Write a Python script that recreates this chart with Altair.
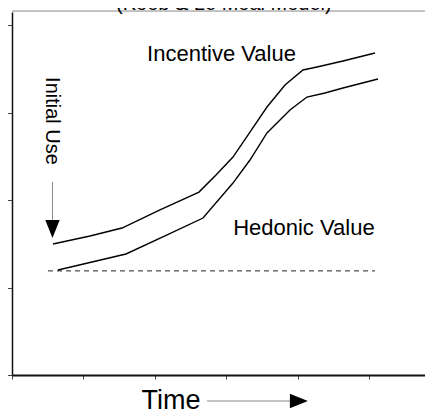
import altair as alt
import pandas as pd

# ---- data ----
incentive_x = [1.148, 2.183, 3.079, 4.142, 5.234, 5.710, 6.185, 6.661, 7.137, 7.641, 8.144, 8.536, 9.264, 10.160]
incentive_y = [1.497, 1.589, 1.680, 1.886, 2.091, 2.286, 2.491, 2.777, 3.063, 3.314, 3.486, 3.520, 3.589, 3.680]

hedonic_x = [1.287, 2.239, 3.191, 4.282, 5.346, 6.185, 6.661, 7.137, 7.781, 8.256, 8.760, 9.264, 10.244]
hedonic_y = [1.200, 1.291, 1.383, 1.589, 1.794, 2.194, 2.457, 2.766, 3.029, 3.177, 3.223, 3.280, 3.383]

baseline_x = [1.008, 10.160]
baseline_y = [1.19, 1.19]

x_ticks = list(range(0, 12))
y_ticks = [0, 1, 2, 3, 4]
x_domain = [0, 11.56]
y_domain = [0, 4.149]

label_text = ["Incentive  Value", "Hedonic  Value"]
label_x = [5.864, 8.17]
label_y = [3.589, 1.60]

title_text = "(Koob & Le Moal Model)"
xlabel_text = "Time"
side_text = "Initial  Use"

# ---- build tables ----
curves = pd.DataFrame(
    {
        "x": incentive_x + hedonic_x,
        "y": incentive_y + hedonic_y,
        "series": ["Incentive"] * len(incentive_x) + ["Hedonic"] * len(hedonic_x),
        "order": list(range(len(incentive_x))) + list(range(len(hedonic_x))),
    }
)
base = pd.DataFrame({"x": baseline_x, "y": baseline_y})

xs = alt.Scale(domain=x_domain, nice=False, zero=False)
ys = alt.Scale(domain=y_domain, nice=False, zero=False)

xaxis = alt.Axis(values=x_ticks, labels=False, title=None, grid=False, domainColor="#111",
                 domainWidth=2, tickColor="#444", tickSize=4, tickWidth=1)
yaxis = alt.Axis(values=y_ticks, labels=False, title=None, grid=False, domainColor="#111",
                 domainWidth=1.5, tickColor="#444", tickSize=7, tickWidth=1)

lines = alt.Chart(curves).mark_line(color="black", strokeWidth=1.4).encode(
    x=alt.X("x:Q", scale=xs, axis=xaxis),
    y=alt.Y("y:Q", scale=ys, axis=yaxis),
    detail="series:N",
    order="order:Q",
)

dashed = alt.Chart(base).mark_line(color="#222", strokeWidth=1, strokeDash=[5, 4]).encode(
    x=alt.X("x:Q", scale=xs), y=alt.Y("y:Q", scale=ys)
)

top_line = alt.Chart(pd.DataFrame({"y": [4.16]})).mark_rule(color="#888", strokeWidth=1).encode(
    y=alt.Y("y:Q", scale=ys), x=alt.value(0), x2=alt.value(413)
)

labels = alt.Chart(pd.DataFrame({"t": label_text, "x": label_x, "y": label_y})).mark_text(
    font="Liberation Sans", fontSize=22, color="black", align="center", baseline="alphabetic"
).encode(x=alt.X("x:Q", scale=xs), y=alt.Y("y:Q", scale=ys), text="t:N")

title = alt.Chart(pd.DataFrame({"t": [title_text], "x": [5.93], "y": [4.171]})).mark_text(
    font="Liberation Sans", fontSize=20, color="black", align="center", baseline="alphabetic"
).encode(x=alt.X("x:Q", scale=xs), y=alt.Y("y:Q", scale=ys), text="t:N")

side = alt.Chart(pd.DataFrame({"t": [side_text], "x": [1.12], "y": [2.903]})).mark_text(
    font="Liberation Sans", fontSize=20, color="black", align="center", baseline="middle", angle=90
).encode(x=alt.X("x:Q", scale=xs), y=alt.Y("y:Q", scale=ys), text="t:N")

down_shaft = alt.Chart(pd.DataFrame({"x": [1.133, 1.133], "y": [2.206, 1.766]})).mark_line(
    color="#888", strokeWidth=1
).encode(x=alt.X("x:Q", scale=xs), y=alt.Y("y:Q", scale=ys))

down_head = alt.Chart(pd.DataFrame({"x": [1.133], "y": [1.669]})).mark_point(
    shape="M-0.8,-1L0.8,-1L0,1Z", size=324, filled=True, color="black", opacity=1
).encode(x=alt.X("x:Q", scale=xs), y=alt.Y("y:Q", scale=ys))

xlabel = alt.Chart(pd.DataFrame({"t": [xlabel_text], "x": [4.45], "y": [-0.389]})).mark_text(
    font="Liberation Sans", fontSize=27, color="black", align="center", baseline="alphabetic"
).encode(x=alt.X("x:Q", scale=xs), y=alt.Y("y:Q", scale=ys), text="t:N")

right_shaft = alt.Chart(pd.DataFrame({"x": [5.458, 7.78], "y": [-0.297, -0.297]})).mark_line(
    color="#888", strokeWidth=1
).encode(x=alt.X("x:Q", scale=xs), y=alt.Y("y:Q", scale=ys))

right_head = alt.Chart(pd.DataFrame({"x": [8.03], "y": [-0.297]})).mark_point(
    shape="M-1,-0.8L1,0L-1,0.8Z", size=324, filled=True, color="black", opacity=1
).encode(x=alt.X("x:Q", scale=xs), y=alt.Y("y:Q", scale=ys))

chart = (
    alt.layer(top_line, dashed, lines, labels, title, side, down_shaft, down_head, xlabel, right_shaft, right_head)
    .properties(
        width=413,
        height=363,
        autosize=alt.AutoSizeParams(type="none"),
        padding={"left": 4, "top": 4, "right": 0, "bottom": 36},
    )
    .configure_view(stroke=None)
)

chart.save("out.html", embed_options={"renderer": "svg", "actions": False})
